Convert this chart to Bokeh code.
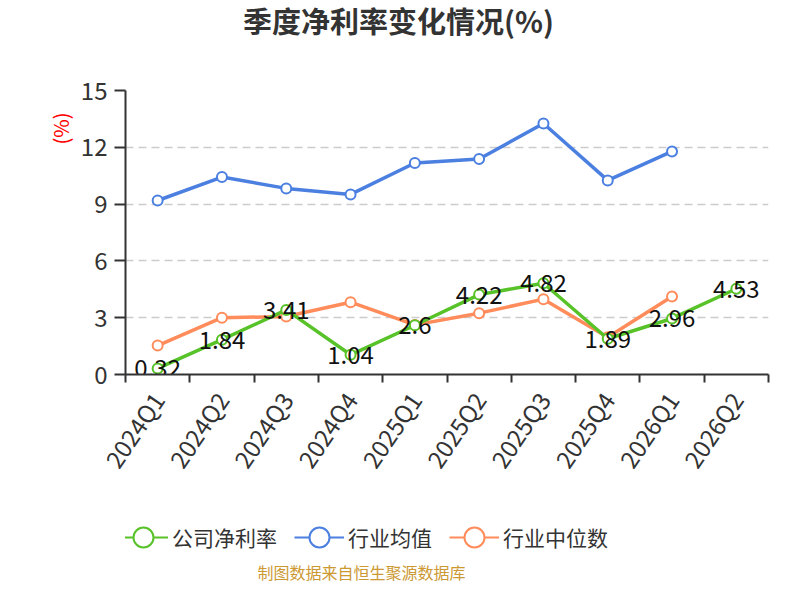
import math
from bokeh.plotting import figure
from bokeh.layouts import column
from bokeh.models import (Range1d, FixedTicker, CustomJSTickFormatter, ColumnDataSource,
                          Legend, LegendItem, Title, Label)
from bokeh.core.properties import value
from bokeh.embed import file_html
from bokeh.resources import INLINE

quarters = ["2024Q1", "2024Q2", "2024Q3", "2024Q4", "2025Q1", "2025Q2",
            "2025Q3", "2025Q4", "2026Q1", "2026Q2"]
company = [0.32, 1.84, 3.41, 1.04, 2.6, 4.22, 4.82, 1.89, 2.96, 4.53]
industry_mean = [9.19, 10.43, 9.83, 9.51, 11.17, 11.38, 13.26, 10.25, 11.78]
industry_median = [1.53, 3.0, 3.06, 3.82, 2.62, 3.24, 3.98, 1.97, 4.12]
y_ticks = [0, 3, 6, 9, 12, 15]
series_names = ["公司净利率", "行业均值", "行业中位数"]

GREEN = "#58c229"
BLUE = "#4b7fe0"
ORANGE = "#ff8c5a"
CJK = "Noto Sans CJK SC"
W = 784
FRAME_LEFT = 125   # plot frames in the column are aligned on this edge


def blank(height):
    f = figure(width=W, height=height, output_backend="svg", toolbar_location=None,
               x_range=Range1d(0, 1), y_range=Range1d(0, 1),
               x_axis_type=None, y_axis_type=None,
               min_border_left=0, min_border_right=0, min_border_top=0, min_border_bottom=0)
    f.outline_line_color = None
    f.xgrid.visible = False
    f.ygrid.visible = False
    return f


# ---------- header ----------
HEAD_H = 60
head = blank(HEAD_H)
head.add_layout(Label(x=398 - FRAME_LEFT, y=HEAD_H - 19, x_units="screen", y_units="screen",
                      text="季度净利率变化情况(%)", text_align="center", text_baseline="middle",
                      text_font=CJK, text_font_size="29px", text_font_style="bold",
                      text_color="#333333"))

# ---------- main chart ----------
MAIN_H = 430
xpos = [i + 0.5 for i in range(len(quarters))]

p = figure(width=W, height=MAIN_H, output_backend="svg", toolbar_location=None,
           x_range=Range1d(0, len(quarters)), y_range=Range1d(0, 15),
           min_border_left=FRAME_LEFT, min_border_right=16, min_border_top=90 - HEAD_H,
           min_border_bottom=MAIN_H - (374 - HEAD_H))
p.outline_line_color = None
p.xgrid.visible = False
p.ygrid.grid_line_color = "#cccccc"
p.ygrid.grid_line_dash = "8 5"
p.ygrid.grid_line_width = 1.5

xa = p.xaxis[0]
xa.ticker = FixedTicker(ticks=xpos, minor_ticks=list(range(len(quarters) + 1)))
xa.formatter = CustomJSTickFormatter(args=dict(labels=quarters),
                                     code="return labels[Math.floor(tick)]")
xa.major_tick_out = 0
xa.major_tick_in = 0
xa.minor_tick_out = 8
xa.minor_tick_in = 0
xa.minor_tick_line_color = "#333333"
xa.minor_tick_line_width = 2
xa.axis_line_color = "#333333"
xa.axis_line_width = 2
xa.major_label_orientation = math.radians(56)
xa.major_label_standoff = 12
xa.major_label_text_font = CJK
xa.major_label_text_font_size = "24px"
xa.major_label_text_color = "#333333"

ya = p.yaxis[0]
ya.ticker = FixedTicker(ticks=y_ticks)
ya.minor_tick_line_color = None
ya.major_tick_out = 11
ya.major_tick_in = 0
ya.major_tick_line_color = "#333333"
ya.major_tick_line_width = 2
ya.axis_line_color = "#333333"
ya.axis_line_width = 2
ya.major_label_standoff = 7
ya.major_label_text_font = CJK
ya.major_label_text_font_size = "24px"
ya.major_label_text_color = "#333333"

p.add_layout(Title(text="(%)", align="right", offset=22, standoff=6,
                   text_font=CJK, text_font_size="20px", text_font_style="normal",
                   text_color="#ff0000"), "left")

src_c = ColumnDataSource(dict(x=xpos, y=company, t=[str(v) for v in company]))
src_m = ColumnDataSource(dict(x=xpos[:len(industry_mean)], y=industry_mean))
src_d = ColumnDataSource(dict(x=xpos[:len(industry_median)], y=industry_median))

for src, col in ((src_m, BLUE), (src_d, ORANGE), (src_c, GREEN)):
    p.line("x", "y", source=src, line_color=col, line_width=3.5)
    p.scatter("x", "y", source=src, size=10, fill_color="white", line_color=col, line_width=2)

p.text("x", "y", text="t", source=src_c, text_align="center", text_baseline="middle",
       text_font=value(CJK), text_font_size="24px", text_color="#111111")

# ---------- legend + footer ----------
FOOT_H = 584 - HEAD_H - MAIN_H
foot = blank(FOOT_H)
items = []
for name, col in zip(series_names, (GREEN, BLUE, ORANGE)):
    dummy = ColumnDataSource(dict(x=[float("nan")], y=[float("nan")]))
    lr = foot.line("x", "y", source=dummy, line_color=col, line_width=2)
    sr = foot.scatter("x", "y", source=dummy, size=10, fill_color="white",
                      line_color=col, line_width=2)
    items.append(LegendItem(label=name, renderers=[lr, sr]))

legend_center = 537 - (HEAD_H + MAIN_H)
legend = Legend(items=items, orientation="horizontal",
                location=(118 - FRAME_LEFT, FOOT_H - legend_center - 29),
                glyph_width=50, glyph_height=58, label_standoff=4, spacing=17,
                padding=0, margin=0, border_line_color=None, background_fill_alpha=0,
                label_text_font=CJK, label_text_font_size="21px",
                label_text_color="#333333", label_text_baseline="middle")
foot.add_layout(legend)

foot.add_layout(Label(x=361 - FRAME_LEFT, y=FOOT_H - (571 - HEAD_H - MAIN_H),
                      x_units="screen", y_units="screen",
                      text="制图数据来自恒生聚源数据库", text_align="center", text_baseline="middle",
                      text_font=CJK, text_font_size="16px", text_color="#cc9933"))

layout = column(head, p, foot, spacing=0)
open("out.html", "w").write(file_html(layout, INLINE))
